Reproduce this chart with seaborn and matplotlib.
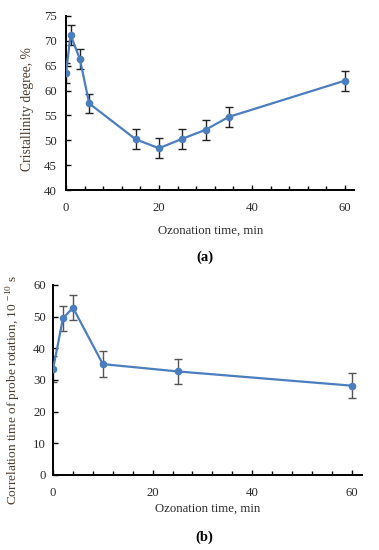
import matplotlib
matplotlib.use("Agg")
import matplotlib.pyplot as plt
import seaborn as sns
import pandas as pd
from matplotlib.ticker import MultipleLocator

# Panel (a) data
time_a = [0, 1, 3, 5, 15, 20, 25, 30, 35, 60]
cryst_a = [63.5, 71.2, 66.3, 57.4, 50.2, 48.4, 50.3, 52.1, 54.7, 62.0]
err_a = [2, 2, 2, 2, 2, 2, 2, 2, 2, 2]

# Panel (b) data
time_b = [0, 2, 4, 10, 25, 60]
corr_b = [33.5, 49.5, 52.8, 35.0, 32.7, 28.2]
err_b = [4, 4, 4, 4, 4, 4]

sns.set_theme(style="white")
plt.rcParams['font.family'] = ['Liberation Serif', 'DejaVu Serif']
plt.rcParams['mathtext.fontset'] = 'custom'
plt.rcParams['mathtext.rm'] = 'Liberation Serif'

LINE = '#4a7ebf'
TXT = '#2b2b2b'
LAB = '#4d3b2c'
fs = 9.2

fig = plt.figure(figsize=(3.79, 5.50), dpi=100)
axa = fig.add_axes([0.174, 0.6545, 0.761, 0.3165])
axb = fig.add_axes([0.140, 0.1364, 0.8146, 0.3455])

def style(ax, ymin, ymax, ystep, xpad, ypad):
    ax.set_xlim(0, 62)
    ax.set_ylim(ymin, ymax)
    ax.xaxis.set_major_locator(MultipleLocator(20))
    ax.xaxis.set_minor_locator(MultipleLocator(4))
    ax.yaxis.set_major_locator(MultipleLocator(ystep))
    for s in ['top', 'right']:
        ax.spines[s].set_visible(False)
    for s in ['left', 'bottom']:
        ax.spines[s].set_color('black')
        ax.spines[s].set_linewidth(1.4)
    ax.tick_params(axis='both', which='major', direction='in', length=3.5, width=1.0,
                   color='black', labelsize=fs, labelcolor=TXT,
                   left=True, bottom=True)
    ax.tick_params(axis='x', which='major', pad=xpad)
    ax.tick_params(axis='y', which='major', pad=ypad)
    ax.tick_params(axis='x', which='minor', direction='in', length=3, width=1.0,
                   color='black', bottom=True)
    ax.grid(False)

dfa = pd.DataFrame({'t': time_a, 'y': cryst_a})
sns.lineplot(data=dfa, x='t', y='y', ax=axa, color=LINE, marker='o', markersize=5.5,
             markeredgewidth=0, linewidth=1.6, zorder=3)
axa.errorbar(time_a, cryst_a, yerr=err_a, fmt='none', ecolor='#222222',
             elinewidth=1.0, capsize=2.6, capthick=1.0, zorder=2)
style(axa, 40, 75, 5, 8.5, 6.5)
axa.set_xlabel('Ozonation time, min', fontsize=fs, color=TXT, labelpad=8)
axa.set_ylabel('Cristallinity degree, %', fontsize=9.8, color=LAB)
axa.yaxis.set_label_coords(-0.112, 0.466)

dfb = pd.DataFrame({'t': time_b, 'y': corr_b})
sns.lineplot(data=dfb, x='t', y='y', ax=axb, color=LINE, marker='o', markersize=5.5,
             markeredgewidth=0, linewidth=1.6, zorder=3)
axb.errorbar(time_b, corr_b, yerr=err_b, fmt='none', ecolor='#555555',
             elinewidth=1.0, capsize=2.6, capthick=1.0, zorder=2)
style(axb, 0, 60, 10, 8.5, 5)
axb.set_xlabel('Ozonation time, min', fontsize=fs, color=TXT, labelpad=3)
axb.set_ylabel('Correlation time of probe rotation, 10 $^{\\mathregular{-10}}$ s',
               fontsize=9.6, color=LAB)
axb.yaxis.set_label_coords(-0.098, 0.447)

fig.text(0.54, 1 - 257/550, '(a)', ha='center', va='center', fontsize=10.5,
         fontweight='bold', color='black')
fig.text(0.54, 1 - 537/550, '(b)', ha='center', va='center', fontsize=10.5,
         fontweight='bold', color='black')

fig.savefig('out.png', dpi=100)
